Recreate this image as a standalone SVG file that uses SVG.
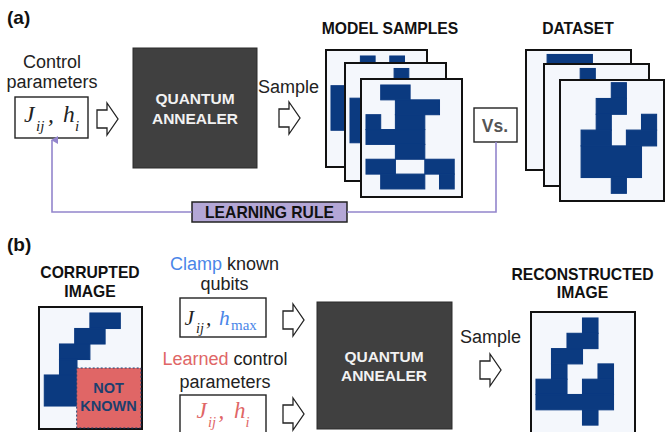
<svg xmlns="http://www.w3.org/2000/svg" xmlns:xlink="http://www.w3.org/1999/xlink" width="665" height="432" viewBox="0 0 665 432">
<style>
.lbl{font-family:"Liberation Sans",Arial,sans-serif;font-size:18px;fill:#222}
.hd{font-family:"Liberation Sans",Arial,sans-serif;font-size:15.7px;font-weight:bold;fill:#111;text-anchor:middle}
.pn{font-family:"Liberation Sans",Arial,sans-serif;font-size:19px;font-weight:bold;fill:#111}
.qa{fill:#404040;stroke:#2a2a2a;stroke-width:1}
.qt{font-family:"Liberation Sans",Arial,sans-serif;font-size:15.5px;font-weight:bold;fill:#f2f2f2;text-anchor:middle}
.pbox{fill:#fff;stroke:#222;stroke-width:1.4}
.math{font-family:"Liberation Serif","Times New Roman",serif;font-style:italic}
.card{fill:#f4f7fc;stroke:#111;stroke-width:2}
.px{fill:#0b3a80;stroke:#0b3a80;stroke-width:0.07}
.ha{fill:#fff;stroke:#222;stroke-width:1.3;stroke-linejoin:miter}
.lr{fill:none;stroke:#9385cc;stroke-width:1.6}
</style>
<defs>
<polygon id="ha" class="ha" points="0,7 10,7 10,0 21,16 10,32 10,25 0,25"/>
<marker id="pa" markerWidth="8" markerHeight="8" refX="4" refY="1" orient="auto-start-reverse" markerUnits="userSpaceOnUse" viewBox="0 0 8 8">
<path d="M0,7 L4,0 L8,7 Z" fill="#9385cc"/>
</marker>
</defs>

<!-- Panel (a) -->
<text class="pn" x="7" y="24">(a)</text>

<g id="control-params-a">
<text class="lbl" x="52" y="68" text-anchor="middle">Control</text>
<text class="lbl" x="52" y="88" text-anchor="middle">parameters</text>
<rect class="pbox" x="15" y="97" width="73" height="41"/>
<text class="math" font-size="23.5" fill="#222"><tspan x="24" y="122">J</tspan><tspan x="36" y="130.5" font-size="15">ij</tspan><tspan x="48" y="122">,</tspan><tspan x="63" y="122">h</tspan><tspan x="75" y="130.5" font-size="15">i</tspan></text>
</g>

<g id="annealer-a">
<rect class="qa" x="133" y="48" width="124" height="120"/>
<text class="qt" x="195" y="104">QUANTUM</text>
<text class="qt" x="195" y="124">ANNEALER</text>
</g>

<text class="lbl" x="288.5" y="93" text-anchor="middle" font-size="17.5">Sample</text>

<text class="hd" x="390" y="34">MODEL SAMPLES</text>
<text class="hd" x="578" y="34">DATASET</text>

<g id="model-samples">
<rect class="card" x="326" y="50" width="101" height="117"/>
<g class="px" transform="translate(331,56) scale(14.7,14.85)">
<rect x="2" y="0" width="1" height="1"/><rect x="4" y="0" width="1" height="1"/>
<rect x="0" y="2" width="1" height="3"/>
</g>
<rect class="card" x="345" y="63" width="101" height="118"/>
<g class="px" transform="translate(350,68.5) scale(14.7,14.85)">
<rect x="3" y="0" width="1" height="1"/>
<rect x="0" y="2" width="1" height="3"/>
</g>
<rect class="card" x="361" y="79" width="101" height="118"/>
<g class="px" transform="translate(366,85) scale(14.7,14.85)">
<rect x="1" y="0" width="2" height="1"/>
<rect x="2" y="1" width="3" height="1"/>
<rect x="0" y="2" width="1" height="1"/><rect x="2" y="2" width="2" height="1"/>
<rect x="0" y="3" width="4" height="1"/>
<rect x="2" y="4" width="2" height="1"/>
<rect x="0" y="5" width="2" height="1"/><rect x="4" y="5" width="2" height="1"/>
<rect x="1" y="6" width="3" height="1"/><rect x="5" y="6" width="1" height="1"/>
</g>
</g>

<g id="vs">
<rect class="pbox" x="474" y="108" width="43" height="34"/>
<text x="495" y="132" text-anchor="middle" font-family="Liberation Sans,Arial,sans-serif" font-weight="bold" font-size="17.5" fill="#555">Vs.</text>
</g>

<g id="dataset">
<rect class="card" x="526" y="50" width="105" height="120"/>
<g class="px" transform="translate(532,54.5) scale(15.1,15.8)">
<rect x="1" y="0" width="3" height="1"/>
</g>
<rect class="card" x="544" y="64" width="105" height="122"/>
<g class="px" transform="translate(550,68.5) scale(15.1,15.8)">
<rect x="2" y="0" width="1" height="1"/>
</g>
<rect class="card" x="560" y="80" width="104" height="121"/>
<g class="px" transform="translate(566,82.7) scale(15.1,15.8)">
<rect x="3" y="0" width="1" height="1"/>
<rect x="2" y="1" width="2" height="1"/>
<rect x="2" y="2" width="1" height="1"/><rect x="5" y="2" width="1" height="1"/>
<rect x="1" y="3" width="2" height="1"/><rect x="4" y="3" width="2" height="1"/>
<rect x="1" y="4" width="4" height="2"/>
<rect x="3" y="6" width="1" height="1"/>
</g>
</g>

<g id="learning-rule">
<rect x="192" y="202" width="155" height="20" fill="#b4a7d6" stroke="#222" stroke-width="1.5"/>
<text class="hd" x="269.5" y="218" fill="#1a1a1a">LEARNING RULE</text>
</g>

<!-- Panel (b) -->
<text class="pn" x="7" y="251">(b)</text>

<g id="corrupted-image">
<text class="hd" x="90" y="278">CORRUPTED</text>
<text class="hd" x="90" y="297">IMAGE</text>
<rect class="card" x="39" y="307" width="103" height="122"/>
<g class="px" transform="translate(44.3,313) scale(15.2,15.5)">
<rect x="3" y="0" width="2" height="1"/>
<rect x="2" y="1" width="2" height="1"/>
<rect x="1" y="2" width="2" height="1"/>
<rect x="1" y="3" width="1.15" height="1"/>
<rect x="0" y="4" width="2.15" height="2"/>
</g>
<rect x="76.7" y="368" width="64.3" height="60" fill="#e06666" stroke="#1c3f6e" stroke-width="1" stroke-dasharray="2,2"/>
<text x="108.5" y="393" text-anchor="middle" font-family="Liberation Sans,Arial,sans-serif" font-weight="bold" font-size="14.5" fill="#1c3f6e">NOT</text>
<text x="108.5" y="411" text-anchor="middle" font-family="Liberation Sans,Arial,sans-serif" font-weight="bold" font-size="14.5" fill="#1c3f6e">KNOWN</text>
</g>

<g id="clamp-params">
<text class="lbl" x="224.5" y="270" text-anchor="middle"><tspan fill="#4a86e8">Clamp</tspan> known</text>
<text class="lbl" x="224.5" y="290" text-anchor="middle">qubits</text>
<rect class="pbox" x="180" y="298" width="86" height="39"/>
<text class="math" font-size="21.5" fill="#222"><tspan x="184.5" y="325">J</tspan><tspan x="196" y="333" font-size="14">ij</tspan><tspan x="206" y="325">,</tspan><tspan x="219" y="325" fill="#4a86e8">h</tspan><tspan x="231" y="330" font-size="15" font-style="normal" fill="#4a86e8">max</tspan></text>
</g>

<g id="learned-params">
<text class="lbl" x="225" y="365" text-anchor="middle" font-size="17.5"><tspan fill="#e06666">Learned</tspan> control</text>
<text class="lbl" x="225" y="388" text-anchor="middle">parameters</text>
<rect class="pbox" x="180" y="395" width="86" height="42"/>
<text class="math" font-size="23" fill="#e06666"><tspan x="196.5" y="418">J</tspan><tspan x="208" y="426.5" font-size="14.5">ij</tspan><tspan x="218.5" y="418">,</tspan><tspan x="234" y="418">h</tspan><tspan x="245.5" y="426.5" font-size="14.5">i</tspan></text>
</g>

<g id="annealer-b">
<rect class="qa" x="317" y="302" width="135" height="127"/>
<text class="qt" x="384" y="362">QUANTUM</text>
<text class="qt" x="384" y="381">ANNEALER</text>
</g>

<text class="lbl" x="490.5" y="343" text-anchor="middle" font-size="17.5">Sample</text>

<g id="reconstructed-image">
<text class="hd" x="582.5" y="280">RECONSTRUCTED</text>
<text class="hd" x="582.5" y="298">IMAGE</text>
<rect class="card" x="531" y="312" width="104" height="126"/>
<g class="px" transform="translate(536,318) scale(15.5,15.3)">
<rect x="3" y="0" width="1" height="1"/>
<rect x="2" y="1" width="2" height="1"/>
<rect x="1" y="2" width="2" height="1"/>
<rect x="1" y="3" width="1" height="1"/><rect x="4" y="3" width="1" height="1"/>
<rect x="0" y="4" width="2" height="1"/><rect x="3" y="4" width="2" height="1"/>
<rect x="0" y="5" width="5" height="1"/>
<rect x="3" y="6" width="1" height="1"/>
</g>
</g>

<g id="connectors">
<use xlink:href="#ha" x="97" y="103"/>
<use xlink:href="#ha" x="279" y="102"/>
<use xlink:href="#ha" x="283" y="304"/>
<use xlink:href="#ha" x="283" y="398"/>
<use xlink:href="#ha" x="480" y="354"/>
<polyline class="lr" points="192,212 52,212 52,140" marker-end="url(#pa)"/>
<polyline class="lr" points="347,212 496,212 496,142"/>
</g>
</svg>
